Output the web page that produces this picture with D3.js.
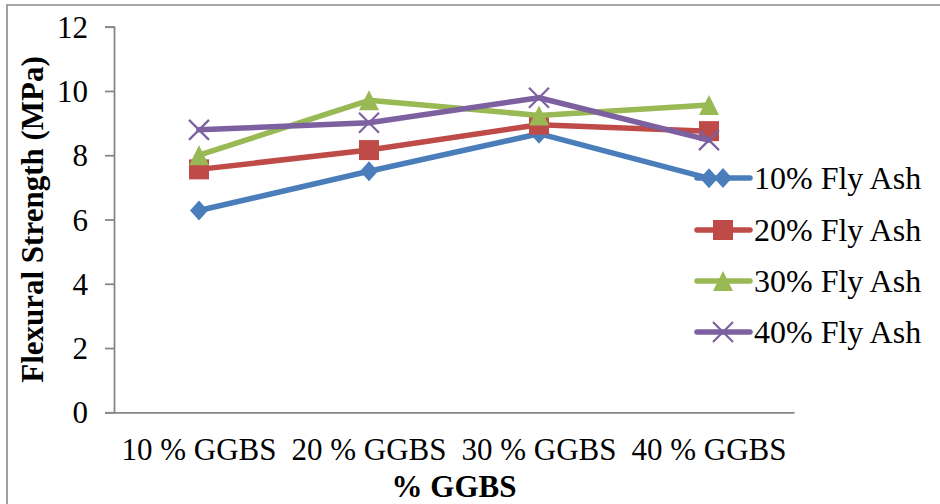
<!DOCTYPE html>
<html>
<head>
<meta charset="utf-8">
<script src="https://cdn.jsdelivr.net/npm/d3@7"></script>
<style>
  html, body { margin: 0; padding: 0; background: #fff; }
  svg { display: block; }
  text { font-family: "Liberation Serif", "Times New Roman", serif; fill: #000; }
</style>
</head>
<body>
<svg id="chart" width="940" height="504"></svg>
<script>
// Categories on the x axis
const categories = ["10 % GGBS", "20 % GGBS", "30 % GGBS", "40 % GGBS"];
// Flexural strength (MPa) for each fly-ash level
const seriesNames = ["10% Fly Ash", "20% Fly Ash", "30% Fly Ash", "40% Fly Ash"];
const flyAsh10 = [6.28, 7.5, 8.67, 7.28];
const flyAsh20 = [7.56, 8.16, 8.95, 8.75];
const flyAsh30 = [8.0, 9.71, 9.24, 9.56];
const flyAsh40 = [8.79, 9.01, 9.79, 8.47];
const yTicks = [0, 2, 4, 6, 8, 10, 12];
const seriesColors = ["#4A7EBB", "#BE4B48", "#98B954", "#7D60A0"];
const markerTypes = ["diamond", "square", "triangle", "cross"];

const series = [flyAsh10, flyAsh20, flyAsh30, flyAsh40].map((values, i) => ({
  name: seriesNames[i], values, color: seriesColors[i], marker: markerTypes[i]
}));

const svg = d3.select("#chart");

// Outer chart frame (only top and left edges fall inside the view)
svg.append("path")
  .attr("d", "M7,950 L7,5 L960,5")
  .attr("fill", "none").attr("stroke", "#8a8a8a").attr("stroke-width", 1.6);

const plot = { left: 114, right: 794, top: 26.7, bottom: 412.3 };

const x = d3.scaleBand().domain(categories).range([plot.left, plot.right]).padding(0);
const y = d3.scaleLinear().domain([0, 12]).range([plot.bottom, plot.top]);
const cx = c => x(c) + x.bandwidth() / 2;

const axisColor = "#878787";

// Y axis
const yAxis = svg.append("g").attr("transform", `translate(${plot.left},0)`)
  .call(d3.axisLeft(y).tickValues(yTicks).tickSize(9).tickPadding(0).tickFormat(d3.format("d")));
yAxis.select(".domain").attr("stroke", axisColor).attr("stroke-width", 1.8);
yAxis.selectAll(".tick line").attr("stroke", axisColor).attr("stroke-width", 1.8);
yAxis.selectAll(".tick text")
  .attr("x", -26).attr("dy", "0.34em")
  .style("font-size", "31px").style("font-family", "'Liberation Serif', serif").attr("fill", "#000");

// X axis (category labels, no tick marks)
const xAxis = svg.append("g").attr("transform", `translate(0,${plot.bottom})`)
  .call(d3.axisBottom(x).tickSize(0).tickPadding(0));
xAxis.select(".domain").attr("stroke", axisColor).attr("stroke-width", 1.8);
xAxis.selectAll(".tick text")
  .attr("y", 48).attr("dy", 0)
  .style("font-size", "31px").style("font-family", "'Liberation Serif', serif").attr("fill", "#000");

// Axis titles
svg.append("text")
  .attr("x", (plot.left + plot.right) / 2).attr("y", 497)
  .attr("text-anchor", "middle")
  .style("font-size", "31px").style("font-weight", "bold")
  .text("% GGBS");

svg.append("text")
  .attr("transform", `translate(43,${(plot.top + plot.bottom) / 2}) rotate(-90)`)
  .attr("text-anchor", "middle")
  .style("font-size", "31px").style("font-weight", "bold")
  .text("Flexural Strength (MPa)");

// Marker drawing
function drawMarker(g, type, color) {
  if (type === "diamond") {
    g.append("path").attr("d", "M0,-10 L9,0 L0,10 L-9,0 Z").attr("fill", color);
  } else if (type === "square") {
    g.append("rect").attr("x", -10).attr("y", -10).attr("width", 20).attr("height", 20)
      .attr("fill", color);
  } else if (type === "triangle") {
    g.append("path").attr("d", "M0,-10 L10,10 L-10,10 Z").attr("fill", color);
  } else if (type === "cross") {
    g.append("path").attr("d", "M-10,-10 L10,10 M-10,10 L10,-10")
      .attr("stroke", color).attr("stroke-width", 2.2).attr("fill", "none");
  }
}

const line = d3.line().x((d, i) => cx(categories[i])).y(d => y(d));

// Series lines and markers
series.forEach(s => {
  const g = svg.append("g");
  g.append("path").datum(s.values)
    .attr("d", line)
    .attr("fill", "none").attr("stroke", s.color).attr("stroke-width", 5.5)
    .attr("stroke-linejoin", "round").attr("stroke-linecap", "round");
  s.values.forEach((v, i) => {
    const m = g.append("g").attr("transform", `translate(${cx(categories[i])},${y(v)})`);
    drawMarker(m, s.marker, s.color);
  });
});

// Legend
const legend = svg.append("g");
const legendY = [178, 230, 281, 332];
series.forEach((s, i) => {
  const g = legend.append("g").attr("transform", `translate(0,${legendY[i]})`);
  g.append("line").attr("x1", 697).attr("x2", 750).attr("y1", 0).attr("y2", 0)
    .attr("stroke", s.color).attr("stroke-width", 5.5).attr("stroke-linecap", "round");
  const m = g.append("g").attr("transform", "translate(723,0)");
  drawMarker(m, s.marker, s.color);
  g.append("text").attr("x", 754).attr("y", 0).attr("dy", "0.35em")
    .style("font-size", "32px").text(s.name);
});
</script>
</body>
</html>
